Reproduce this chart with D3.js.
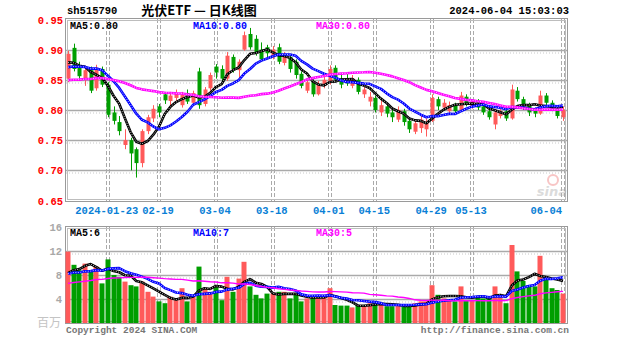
<!DOCTYPE html>
<html><head><meta charset="utf-8">
<script src="https://cdn.jsdelivr.net/npm/d3@7"></script>
<style>body{margin:0;background:#fff;}svg{display:block}</style>
</head><body><svg id="c" width="627" height="342"></svg>
<script>
// ---- data ----
const symbol = "sh515790";
const title = "光伏ETF — 日K线图";
const stamp = "2024-06-04 15:03:03";
const tickIndex = [7,16,26,36,46,54,64,71,87];
const tickLabels = ["2024-01-23","02-19","03-04","03-18","04-01","04-15","04-29","05-13","06-04"];
const priceTicks = [0.95,0.90,0.85,0.80,0.75,0.70,0.65];
const volumeTicks = [16,12,8,4];
const priceMALabels = ["MA5:0.80","MA10:0.80","MA30:0.80"];
const volumeMALabels = ["MA5:6","MA10:7","MA30:5"];
const maPeriods = [5,10,30];
const priorCloses = [0.852,0.846,0.838,0.830,0.826,0.834,0.842,0.836,0.828,0.832,0.840,0.846,0.838,0.834,0.842,0.848,0.844,0.838,0.846,0.836,0.856,0.862,0.868,0.860,0.869,0.872,0.880,0.874,0.876];
const opens = [.852,.903,.872,.852,.866,.836,.868,.842,.796,.780,.742,.750,.735,.712,.765,.786,.806,.826,.815,.820,.808,.828,.812,.864,.810,.836,.872,.868,.852,.888,.866,.900,.926,.918,.900,.904,.888,.904,.878,.888,.880,.860,.832,.848,.826,.840,.846,.870,.852,.848,.840,.850,.826,.814,.820,.796,.806,.796,.784,.798,.782,.764,.770,.768,.782,.818,.804,.798,.808,.800,.822,.806,.814,.806,.798,.776,.790,.798,.786,.832,.818,.808,.800,.794,.824,.812,.802,.788];
const highs = [.898,.910,.880,.870,.872,.875,.872,.846,.806,.790,.768,.754,.738,.768,.792,.808,.810,.830,.830,.834,.830,.834,.832,.870,.838,.862,.876,.874,.896,.892,.884,.930,.936,.924,.912,.908,.906,.910,.896,.892,.884,.864,.852,.852,.848,.856,.874,.874,.858,.860,.858,.854,.840,.830,.824,.816,.810,.800,.806,.802,.786,.784,.790,.786,.826,.822,.818,.814,.812,.830,.826,.818,.818,.810,.802,.800,.802,.800,.842,.838,.822,.812,.804,.832,.828,.816,.806,.806];
const lows = [.846,.864,.852,.840,.828,.832,.838,.788,.776,.758,.735,.700,.688,.705,.760,.780,.788,.810,.806,.812,.804,.810,.808,.802,.806,.832,.852,.846,.848,.862,.852,.898,.900,.890,.880,.886,.884,.876,.874,.862,.852,.836,.828,.822,.824,.836,.842,.846,.836,.840,.836,.826,.820,.806,.796,.790,.788,.780,.780,.774,.762,.760,.762,.756,.780,.800,.800,.794,.794,.798,.806,.802,.800,.792,.784,.768,.786,.782,.784,.814,.800,.790,.788,.792,.808,.798,.786,.782];
const closes = [.893,.868,.856,.866,.832,.870,.842,.792,.782,.765,.750,.728,.712,.765,.788,.802,.796,.816,.824,.828,.826,.814,.828,.808,.834,.858,.862,.852,.890,.868,.880,.924,.904,.896,.884,.894,.900,.880,.890,.868,.858,.840,.846,.826,.842,.850,.868,.850,.842,.844,.852,.830,.834,.822,.800,.808,.794,.788,.800,.780,.768,.778,.784,.780,.820,.806,.812,.808,.798,.824,.810,.814,.804,.796,.788,.796,.798,.786,.834,.818,.806,.796,.794,.824,.812,.802,.790,.800];
const priorVolumes = [5.2,5.8,6.4,5.1,4.9,5.5,6.2,5.9,6.8,5.4,5.6,6.1,5.3,6.0,6.6,5.7,5.9,6.3,5.5,5.8,7.6,8.8,7.9,8.4,7.8,7.2,7.9,7.1,7.4];
const volumes = [11.9,9.7,8.8,9.9,8.8,9.4,6.6,10.6,8.0,7.7,6.9,6.3,6.1,6.9,5.2,4.4,3.6,3.3,4.4,3.8,5.8,3.6,4.4,9.4,5.8,5.2,6.1,3.8,7.7,5.2,7.4,10.2,6.1,4.7,4.1,4.9,4.9,5.2,5.2,4.1,4.9,3.6,4.1,4.4,4.4,4.7,5.8,3.0,2.9,2.9,2.6,3.0,3.0,3.3,3.6,3.0,2.8,2.8,3.0,2.7,2.9,3.3,3.6,3.6,6.3,4.7,4.1,3.8,3.6,6.1,3.8,3.8,4.4,4.1,4.4,6.1,4.4,3.3,13.0,8.6,7.0,6.3,6.1,11.2,7.7,5.8,5.5,4.9];

// ---- styles ----
const RED = "#ff5a5a", GREEN = "#009e00";
const maColors = ["#000000","#0000ff","#ff00ff"];
const GRID = "#aaaaaa";
const MONO = "'Liberation Mono','DejaVu Sans Mono',monospace";

const svg = d3.select("#c");
const N = closes.length;
const x = d3.scaleLinear().domain([0, N-1]).range([68, 563]);
const yP = d3.scaleLinear().domain([0.65, 0.95]).range([200.5, 19.5]);
const yV = d3.scaleLinear().domain([0, 16]).range([323, 227]);

function movingAvg(prior, vals, n){
  const all = prior.concat(vals), P = prior.length;
  return vals.map((v,i)=>{ const s = all.slice(P+i-n+1, P+i+1); return d3.mean(s); });
}

// header
svg.append("text").attr("x",67).attr("y",14).attr("font-family",MONO).attr("font-weight","bold").attr("font-size",10.5).attr("fill","#000").text(symbol);
svg.append("text").attr("x",199).attr("y",15).attr("text-anchor","middle").attr("font-family","'Noto Sans CJK SC',sans-serif").attr("font-weight","bold").attr("font-size",13).attr("fill","#000").text(title);
svg.append("text").attr("x",569).attr("y",14).attr("text-anchor","end").attr("font-family",MONO).attr("font-weight","bold").attr("font-size",10.5).attr("fill","#000").text(stamp);

function panel(top, bottom, hTicks, yScale){
  const g = svg.append("g");
  hTicks.forEach(t=>{
    const yy = Math.round(yScale(t))+0.5;
    if (yy > top+2 && yy < bottom-2){
      g.append("line").attr("x1",66).attr("x2",567).attr("y1",yy).attr("y2",yy).attr("stroke",GRID).attr("stroke-width",1.5);
      g.append("line").attr("x1",66).attr("x2",567).attr("y1",yy+2.5).attr("y2",yy+2.5).attr("stroke","#c8c8c8").attr("stroke-width",1).attr("stroke-dasharray","1,2");
    }
  });
  tickIndex.forEach(i=>{
    const xx = Math.round(x(i));
    [xx-1.5, xx+1.5].forEach(lx=>{
      g.append("line").attr("x1",lx).attr("x2",lx).attr("y1",top).attr("y2",bottom).attr("stroke",GRID).attr("stroke-width",1).attr("stroke-dasharray","4,2");
    });
  });
  g.append("rect").attr("x",65.5).attr("y",top-0.5).attr("width",502).attr("height",bottom-top+1).attr("fill","none").attr("stroke","#9a9a9a").attr("stroke-width",1);
  g.append("rect").attr("x",67.5).attr("y",top+1.5).attr("width",498).attr("height",bottom-top-3).attr("fill","none").attr("stroke","#bdbdbd").attr("stroke-width",1);
}
panel(19, 201, priceTicks, yP);
panel(227, 323, volumeTicks, yV);

// price axis labels
svg.append("g").selectAll("text").data(priceTicks).join("text")
  .attr("x",63).attr("y",d=>yP(d)+4).attr("text-anchor","end")
  .attr("font-family",MONO).attr("font-weight","bold").attr("font-size",10.5).attr("fill","#ff0000")
  .text(d=>d.toFixed(2));
// date labels
svg.append("g").selectAll("text").data(tickIndex).join("text")
  .attr("x",(d,k)=> k===tickIndex.length-1 ? x(d)-1 : x(d)-1)
  .attr("y",214).attr("text-anchor",(d,k)=> k===tickIndex.length-1 ? "end" : "middle")
  .attr("font-family",MONO).attr("font-weight","bold").attr("font-size",10.5).attr("fill","#0a7fd6")
  .text((d,k)=>tickLabels[k]);
// volume axis labels
svg.append("g").selectAll("text").data(volumeTicks).join("text")
  .attr("x",62).attr("y",d=>yV(d)+4).attr("text-anchor","end")
  .attr("font-family",MONO).attr("font-weight","bold").attr("font-size",10.5).attr("fill","#a8a8a8")
  .text(d=>d);
svg.append("text").attr("x",61).attr("y",327).attr("text-anchor","end").attr("font-family","'Noto Sans CJK SC',sans-serif").attr("font-size",12).attr("fill","#c4c4c4").text("百万");

// watermark
const wm = svg.append("g").attr("opacity",0.45);
wm.append("circle").attr("cx",553).attr("cy",180).attr("r",5).attr("fill","none").attr("stroke","#f08080").attr("stroke-width",2);
wm.append("text").attr("x",567).attr("y",196).attr("text-anchor","end").attr("font-family","'DejaVu Sans',sans-serif").attr("font-style","italic").attr("font-weight","bold").attr("font-size",13).attr("fill","#b0b0b0").text("sina");

// candles
const idx = d3.range(N);
const up = i => closes[i] >= opens[i];
const cg = svg.append("g");
cg.selectAll("line").data(idx).join("line")
  .attr("x1",i=>Math.round(x(i))+0.5).attr("x2",i=>Math.round(x(i))+0.5)
  .attr("y1",i=>yP(highs[i])).attr("y2",i=>yP(lows[i]))
  .attr("stroke",i=>up(i)?RED:GREEN).attr("stroke-width",1);
cg.selectAll("rect").data(idx).join("rect")
  .attr("x",i=>Math.round(x(i))-1.5).attr("width",4)
  .attr("y",i=>yP(Math.max(opens[i],closes[i])))
  .attr("height",i=>Math.max(1, Math.abs(yP(opens[i])-yP(closes[i]))))
  .attr("fill",i=>up(i)?RED:GREEN);

// volume bars
svg.append("g").selectAll("rect").data(idx).join("rect")
  .attr("x",i=>Math.round(x(i))-2.5).attr("width",5)
  .attr("y",i=>yV(volumes[i])).attr("height",i=>yV(0)-yV(volumes[i]))
  .attr("fill",i=>up(i)?RED:GREEN);

// moving averages
function drawMA(series, yScale, outlined){
  maPeriods.forEach((n,k)=>{
    const line = d3.line().x((d,i)=>x(i)).y(d=>yScale(d)).curve(d3.curveLinear);
    const g = svg.append("g");
    const thick = outlined[k];
    g.append("path").datum(series[k]).attr("d",line).attr("fill","none").attr("stroke",maColors[k]).attr("stroke-width",thick?2.6:1.4).attr("stroke-linejoin","round");
    if (thick) g.append("path").datum(series[k]).attr("d",line).attr("fill","none").attr("stroke","#fff").attr("stroke-width",0.8).attr("stroke-dasharray","1,1.5");
  });
}
drawMA(maPeriods.map(n=>movingAvg(priorCloses, closes, n)), yP, [true,true,true]);
drawMA(maPeriods.map(n=>movingAvg(priorVolumes, volumes, n)), yV, [true,true,false]);

// MA labels
const labelX = [70,193,316];
priceMALabels.forEach((t,k)=>svg.append("text").attr("x",labelX[k]).attr("y",29).attr("font-family",MONO).attr("font-weight","bold").attr("font-size",10).attr("fill",maColors[k]).text(t));
volumeMALabels.forEach((t,k)=>svg.append("text").attr("x",labelX[k]).attr("y",236).attr("font-family",MONO).attr("font-weight","bold").attr("font-size",10).attr("fill",maColors[k]).text(t));

// footer
svg.append("text").attr("x",66).attr("y",333).attr("font-family",MONO).attr("font-weight","bold").attr("font-size",9.5).attr("fill","#777").text("Copyright 2024 SINA.COM");
svg.append("text").attr("x",569).attr("y",333).attr("text-anchor","end").attr("font-family",MONO).attr("font-weight","bold").attr("font-size",9.5).attr("fill","#777").text("http://finance.sina.com.cn");
</script></body></html>
